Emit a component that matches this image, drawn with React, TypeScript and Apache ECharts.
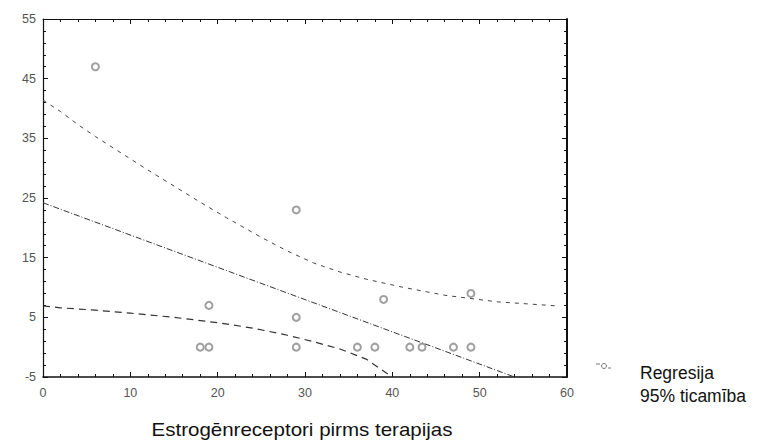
import React, { useEffect, useRef } from "react";
import * as echarts from "echarts";

// Scatter observations
const obsX = [6, 29, 19, 18, 19, 29, 29, 36, 38, 39, 42, 43.4, 47, 49, 49];
const obsY = [47, 23, 7, 0, 0, 5, 0, 0, 0, 8, 0, 0, 0, 0, 9];

// Regression line (read endpoints)
const regX = [0, 54];
const regY = [24.2, -5];

// 95% confidence band, upper
const upperX = [0, 2, 4, 6, 9, 12, 15, 18, 21, 25, 28, 31, 34, 37, 41, 46, 52, 59];
const upperY = [41.4, 39.5, 37.3, 35.3, 32.5, 29.7, 27, 24.3, 21.7, 18.4, 16.1, 14.1, 12.6, 11.4, 10.1, 8.7, 7.6, 6.9];

// 95% confidence band, lower
const lowerX = [0, 2, 6, 10, 15, 20, 24, 28, 31, 34, 37, 40];
const lowerY = [6.9, 6.6, 6.2, 5.7, 5.0, 4.1, 3.2, 2.0, 0.9, -0.3, -2, -5];

const xTitle = "Estrogēnreceptori pirms terapijas";
const legendNames = ["Regresija", "95% ticamība"];

const zip = (xs: number[], ys: number[]) => xs.map((x, i) => [x, ys[i]]);

export default function App() {
  const ref = useRef<HTMLDivElement>(null);
  useEffect(() => {
    document.body.style.margin = "0";
    if (!ref.current) return;
    const chart = echarts.init(ref.current, undefined, { renderer: "svg" });
    const axisText = { color: "#555", fontSize: 12.5, fontFamily: "Liberation Sans" };
    const tickStyle = { color: "#111", width: 1 };
    const baseX = {
      type: "value" as const,
      min: 0,
      max: 60,
      interval: 10,
      splitLine: { show: false },
      axisTick: { show: true, inside: true, length: 5, lineStyle: tickStyle },
      minorTick: { show: true, splitNumber: 5, length: 3, lineStyle: tickStyle },
    };
    const baseY = {
      type: "value" as const,
      min: -5,
      max: 55,
      interval: 10,
      splitLine: { show: false },
      axisTick: { show: true, inside: true, length: 5, lineStyle: tickStyle },
      minorTick: { show: true, splitNumber: 5, length: 3, lineStyle: tickStyle },
    };
    chart.setOption({
      animation: false,
      backgroundColor: "#fff",
      grid: { left: 43, top: 19, right: 197, bottom: 64 },
      xAxis: [
        { ...baseX, position: "bottom", axisLine: { show: true, onZero: false, lineStyle: { color: "#111", width: 1.6 } }, axisLabel: { ...axisText, margin: 9 } },
        { ...baseX, position: "top", axisLine: { show: true, onZero: false, lineStyle: { color: "#111", width: 1 } }, axisLabel: { show: false } },
      ],
      yAxis: [
        { ...baseY, position: "left", axisLine: { show: true, onZero: false, lineStyle: { color: "#111", width: 1.2 } }, axisLabel: { ...axisText, margin: 7 } },
        { ...baseY, position: "right", axisLine: { show: true, onZero: false, lineStyle: { color: "#111", width: 2 } }, axisLabel: { show: false } },
      ],
      series: [
        {
          name: legendNames[0],
          type: "scatter",
          xAxisIndex: 0,
          yAxisIndex: 0,
          data: zip(obsX, obsY),
          symbol: "emptyCircle",
          symbolSize: 7,
          itemStyle: { color: "#888", borderColor: "#888", borderWidth: 0.9 },
          z: 5,
        },
        {
          name: "reg",
          type: "line",
          data: zip(regX, regY),
          showSymbol: false,
          symbol: "none",
          lineStyle: { color: "#333", width: 1, type: [6, 2, 1, 2] },
        },
        {
          name: legendNames[1],
          type: "line",
          data: zip(upperX, upperY),
          showSymbol: false,
          symbol: "none",
          lineStyle: { color: "#444", width: 1, type: [4, 5] },
        },
        {
          name: "lower",
          type: "line",
          data: zip(lowerX, lowerY),
          showSymbol: false,
          symbol: "none",
          lineStyle: { color: "#333", width: 1.2, type: [7, 5] },
        },
      ],
      graphic: [
        {
          type: "text",
          x: 302,
          y: 430,
          scaleX: 1.14,
          style: {
            text: xTitle,
            fill: "#111",
            fontSize: 18,
            fontFamily: "Liberation Sans",
            align: "center",
            verticalAlign: "middle",
          },
        },
        { type: "line", shape: { x1: 596, y1: 364, x2: 600, y2: 364 }, style: { stroke: "#777", lineWidth: 1 } },
        { type: "circle", shape: { cx: 604, cy: 366, r: 2.5 }, style: { fill: "none", stroke: "#777", lineWidth: 1 } },
        { type: "line", shape: { x1: 608, y1: 368, x2: 611, y2: 368 }, style: { stroke: "#777", lineWidth: 1 } },
        {
          type: "text",
          x: 640,
          y: 373,
          style: {
            text: legendNames[0],
            fill: "#111",
            fontSize: 17.5,
            fontFamily: "Liberation Sans",
            align: "left",
            verticalAlign: "middle",
          },
        },
        {
          type: "text",
          x: 640,
          y: 396,
          style: {
            text: legendNames[1],
            fill: "#111",
            fontSize: 17.5,
            fontFamily: "Liberation Sans",
            align: "left",
            verticalAlign: "middle",
          },
        },
      ],
    });
    return () => chart.dispose();
  }, []);
  return <div ref={ref} style={{ width: 764, height: 441 }} />;
}
